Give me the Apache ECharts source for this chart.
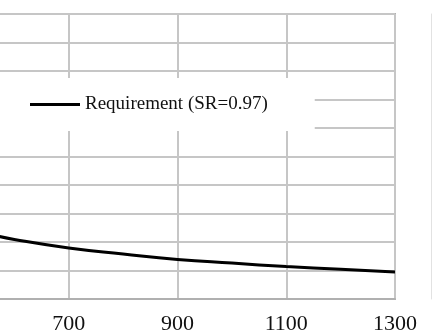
<!DOCTYPE html>
<html>
<head>
<meta charset="utf-8">
<script src="https://cdn.jsdelivr.net/npm/echarts@6/dist/echarts.min.js"></script>
<style>
  html, body { margin: 0; padding: 0; background: #fff; }
  #chart { width: 434px; height: 331px; }
</style>
</head>
<body>
<div id="chart"></div>
<script>
// Requirement curve: x positions and the matching level on the vertical scale
const xValues = [560, 600, 700, 800, 900, 1000, 1100, 1200, 1300];
const requirement = [0.225, 0.209, 0.179, 0.158, 0.139, 0.126, 0.114, 0.104, 0.095];
const seriesName = 'Requirement (SR=0.97)';

const chart = echarts.init(document.getElementById('chart'), null, { renderer: 'canvas' });

const gridColor = '#c6c6c6';
const serif = '"Liberation Serif", "DejaVu Serif", serif';

chart.setOption({
  backgroundColor: '#ffffff',
  animation: false,
  grid: {
    left: -40, right: 39, top: 14, bottom: 32,
    outerBoundsMode: 'none',
    containLabel: false,
    show: true, borderColor: '#b0b0b0', borderWidth: 2, backgroundColor: 'transparent'
  },
  legend: {
    left: 0, top: 78,
    padding: [17, 47, 17, 30],
    backgroundColor: '#ffffff',
    icon: 'rect',
    itemWidth: 50, itemHeight: 3,
    textStyle: { fontFamily: serif, fontSize: 19, color: '#111' },
    data: [seriesName]
  },
  xAxis: {
    type: 'value', min: 500, max: 1300, interval: 200,
    axisLine: { show: true, lineStyle: { color: '#b0b0b0', width: 2 } },
    axisTick: { show: false },
    axisLabel: {
      margin: 14, fontFamily: serif, fontSize: 22, color: '#111',
      formatter: v => String(v)
    },
    splitLine: { show: true, lineStyle: { color: gridColor, width: 2 } }
  },
  yAxis: {
    type: 'value', min: 0, max: 1, interval: 0.1,
    position: 'right', offset: 36,
    axisLine: { show: true, lineStyle: { color: '#e2e2e2', width: 1 } },
    axisTick: { show: false },
    axisLabel: { show: false },
    splitLine: { show: true, lineStyle: { color: gridColor, width: 2 } }
  },
  series: [{
    name: seriesName,
    type: 'line',
    smooth: true,
    symbol: 'none',
    data: xValues.map((x, i) => [x, requirement[i]]),
    lineStyle: { color: '#000', width: 3 },
    itemStyle: { color: '#000' }
  }]
});
</script>
</body>
</html>
